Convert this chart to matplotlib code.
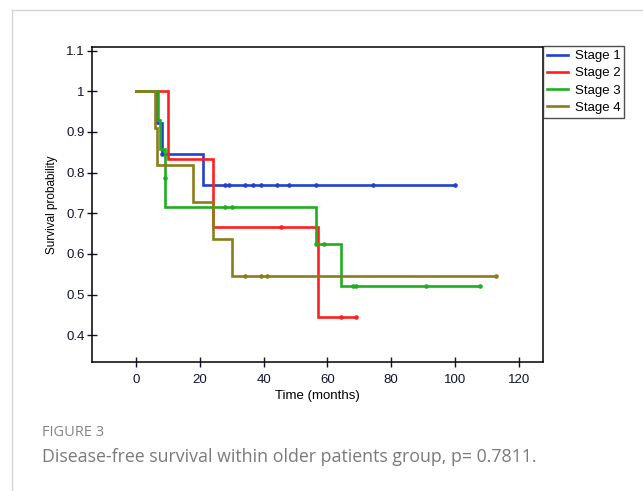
"""Kaplan-Meier curves, disease-free survival by stage (older patients)"""
import numpy as np
import matplotlib
matplotlib.use('Agg')
from matplotlib import pyplot as plt
from matplotlib.lines import Line2D

# step curves: event times and survival after each step
stage1_t = [0, 6.5, 8, 21, 100]
stage1_s = [1, 0.923, 0.846, 0.769, 0.769]
stage1_cens = [8, 27.9, 29.2, 34.2, 36.8, 39.1, 44.3, 48.0, 56.3, 74.2, 100]

stage2_t = [0, 10, 24.2, 57, 69]
stage2_s = [1, 0.833, 0.667, 0.444, 0.444]
stage2_cens = [45.4, 64.3, 69]

stage3_t = [0, 7, 7.5, 9, 9.2, 56.3, 64.3, 108]
stage3_s = [1, 0.929, 0.857, 0.786, 0.714, 0.625, 0.521, 0.521]
stage3_cens = [9, 27.9, 30.2, 56.3, 59, 68, 69, 91, 108]

stage4_t = [0, 6, 6.7, 18, 24.2, 30.2, 113]
stage4_s = [1, 0.909, 0.818, 0.727, 0.636, 0.545, 0.545]
stage4_cens = [34.2, 39.1, 41.2, 113]

labels = ['Stage 1', 'Stage 2', 'Stage 3', 'Stage 4']
colors = ['#2340d0', '#ff1f1f', '#1fae1f', '#8a7e1c']

x_ticks = [0, 20, 40, 60, 80, 100, 120]
y_ticks = [0.4, 0.5, 0.6, 0.7, 0.8, 0.9, 1.0, 1.1]
y_ticklabels = ['0.4', '0.5', '0.6', '0.7', '0.8', '0.9', '1', '1.1']

plt.rcParams['font.family'] = ['Liberation Sans', 'DejaVu Sans']

fig = plt.figure(figsize=(6.43, 4.91), dpi=100)
ax = fig.add_axes([92.3 / 643, 1 - 362 / 491, (542.7 - 92.3) / 643, (362 - 47.3) / 491])

curves = [(stage1_t, stage1_s, stage1_cens), (stage2_t, stage2_s, stage2_cens),
          (stage3_t, stage3_s, stage3_cens), (stage4_t, stage4_s, stage4_cens)]
for (t, s, cens), lab, col in zip(curves, labels, colors):
    t = np.asarray(t, float)
    s = np.asarray(s, float)
    ax.step(t, s, where='post', color=col, lw=1.9, label=lab, solid_joinstyle='miter')
    idx = np.searchsorted(t, cens, side='right') - 1
    ax.plot(cens, s[idx], ls='none', marker='o', ms=3.3, color=col, mew=0)

ax.set_xlim(-13.7, 127.5)
ax.set_ylim(0.334, 1.108)
ax.set_xticks(x_ticks)
ax.set_yticks(y_ticks)
ax.set_yticklabels(y_ticklabels)
ax.tick_params(direction='inout', length=7, width=1, labelsize=9.5, colors='#111133')
ax.tick_params(axis='x', pad=5)
ax.tick_params(axis='y', pad=2)
for sp in ax.spines.values():
    sp.set_linewidth(1.1)
ax.set_xlabel('Time (months)', fontsize=9.5, labelpad=3)
ax.set_ylabel('Survival probability', fontsize=8.5, labelpad=6)

leg = fig.legend(loc='upper left', bbox_to_anchor=(543 / 643, 1 - 46 / 491), borderaxespad=0,
                 fontsize=9.5, frameon=True, fancybox=False, handlelength=1.6, handletextpad=0.5,
                 labelspacing=0.38, borderpad=0.3)
leg.get_frame().set_edgecolor('#222222')
leg.get_frame().set_linewidth(1.0)

# card border
fig.add_artist(Line2D([11.5 / 643, 11.5 / 643], [0, 1 - 10 / 491], color='#d4d4d4', lw=1))
fig.add_artist(Line2D([11.5 / 643, 1], [1 - 10 / 491, 1 - 10 / 491], color='#d4d4d4', lw=1))

fig.text(42 / 643, 1 - 432 / 491, 'FIGURE 3', fontsize=10.5, color='#858585',
         family='Open Sans', va='center')
fig.text(42 / 643, 1 - 457 / 491, 'Disease-free survival within older patients group, p= 0.7811.',
         fontsize=12.8, color='#7a7a7a', family='Open Sans', va='center')

plt.savefig('out.png', dpi=100)
